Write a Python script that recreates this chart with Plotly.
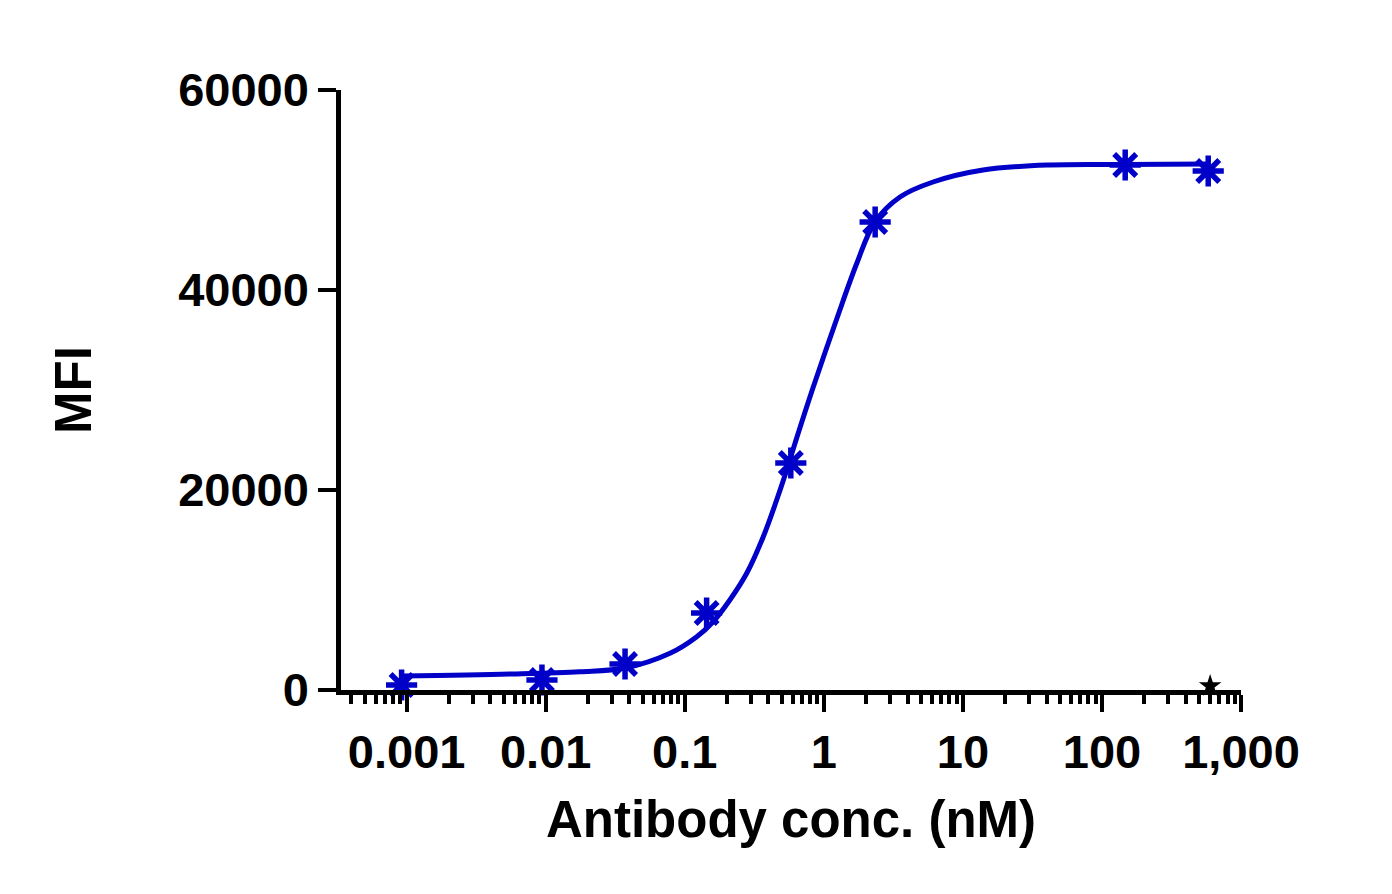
import plotly.graph_objects as go

# Measured data points (antibody concentration in nM, MFI)
conc = [0.00092, 0.0094, 0.0372, 0.1436, 0.579, 2.34, 147, 581]
mfi = [500, 1000, 2600, 7700, 22700, 46800, 52500, 51900]

# Fitted curve
curve_x = [0.00092, 0.0058, 0.0176, 0.0372, 0.0783, 0.122, 0.160, 0.211, 0.279,
           0.367, 0.458, 0.541, 0.638, 0.835, 1.245, 1.73, 2.33, 3.53, 6.10,
           13.96, 42.3, 146.6, 581]
curve_y = [1400, 1600, 1830, 2200, 3670, 5330, 6830, 9000, 11670,
           15330, 19000, 22000, 25200, 30200, 37200, 42700, 46800, 49300, 50800,
           52000, 52500, 52550, 52600]

# Control point
ctrl_x = [600]
ctrl_y = [400]

x_tickvals = [0.001, 0.01, 0.1, 1, 10, 100, 1000]
x_ticktext = ["0.001", "0.01", "0.1", "1", "10", "100", "1,000"]
y_tickvals = [0, 20000, 40000, 60000]
y_ticktext = ["0", "20000", "40000", "60000"]

minor_vals = [m * 10.0 ** e for e in range(-4, 3) for m in range(2, 10)
              if 0.00035 < m * 10.0 ** e < 1000]

blue = "#0000C8"
font_family = "Liberation Sans, Arial, sans-serif"

fig = go.Figure()
fig.add_trace(go.Scatter(x=curve_x, y=curve_y, mode="lines",
                         line=dict(color=blue, width=5, shape="spline", smoothing=1.0),
                         cliponaxis=False, showlegend=False, hoverinfo="skip"))
fig.add_trace(go.Scatter(x=conc, y=mfi, mode="markers",
                         marker=dict(symbol="asterisk-open", size=26, color=blue,
                                     line=dict(color=blue, width=5.5)),
                         cliponaxis=False, showlegend=False))
fig.add_trace(go.Scatter(x=ctrl_x, y=ctrl_y, mode="markers",
                         marker=dict(symbol="star", size=17, color="black"),
                         cliponaxis=False, showlegend=False))

fig.update_layout(
    width=1392, height=894,
    margin=dict(l=333, r=159, t=82, b=212, autoexpand=False),
    paper_bgcolor="white", plot_bgcolor="white",
    font=dict(family=font_family, color="black", size=45, weight="bold"),
    xaxis=dict(
        type="log", range=[-3.472, 3.0],
        tickmode="array", tickvals=x_tickvals, ticktext=x_ticktext,
        ticks="outside", ticklen=17, tickwidth=4, tickcolor="black",
        showline=True, linewidth=4.5, linecolor="black",
        showgrid=False, zeroline=False, automargin=False,
        tickfont=dict(size=47, family=font_family, weight="bold"),
        minor=dict(tickmode="array", tickvals=minor_vals, ticks="outside",
                   ticklen=9, tickwidth=4, tickcolor="black", showgrid=False),
        title=dict(text="Antibody conc. (nM)", standoff=26,
                   font=dict(size=51, family=font_family, weight="bold")),
    ),
    yaxis=dict(
        range=[0, 60000],
        tickmode="array", tickvals=y_tickvals, ticktext=y_ticktext,
        ticks="outside", ticklen=18, tickwidth=4, tickcolor="black",
        showline=True, linewidth=4.5, linecolor="black",
        showgrid=False, zeroline=False, automargin=False,
        tickfont=dict(size=47, family=font_family, weight="bold"),
        title=dict(text="MFI", standoff=72,
                   font=dict(size=51, family=font_family, weight="bold")),
    ),
)

fig.write_html("out.html")
